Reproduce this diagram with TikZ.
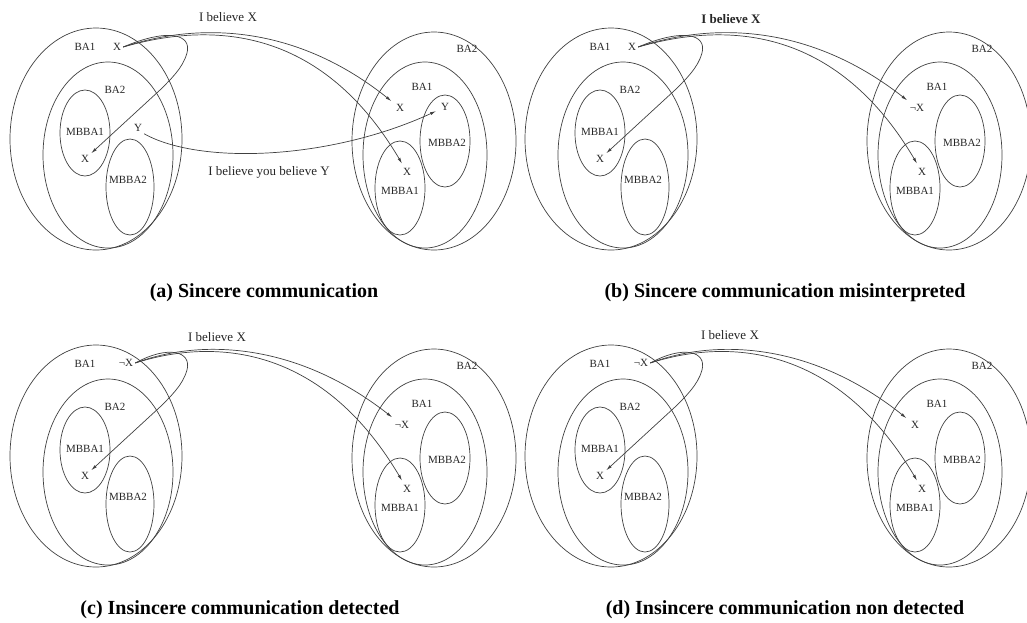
\documentclass[tikz,border=0pt]{standalone}
\usepackage{fontspec}
\setmainfont{Liberation Serif}
\usetikzlibrary{arrows.meta}

\tikzset{
  shell/.style={draw=black!75, line width=.7pt},
  lbl/.style={font=\fontsize{11}{13}\selectfont, text=black!85, inner sep=2pt},
  msgtext/.style={font=\fontsize{13}{15}\selectfont, text=black!85},
  capt/.style={font=\fontsize{20}{24}\selectfont\bfseries},
  msg/.style={draw=black!75, line width=.7pt, -{Latex[length=6pt,width=3pt]}},
}

\begin{document}
\begin{tikzpicture}[x=1pt,y=-1pt]
  \useasboundingbox (0,0) rectangle (1027,622);

  % belief spaces of both agents, the same in all four panels
  \foreach \p/\dx/\dy in {a/0/0,b/515/0,c/0/317,d/515/317}{
    \begin{scope}[shift={(\dx,\dy)}]
      % speaker
      \draw[shell] (96,139) ellipse [x radius=86pt, y radius=111pt];
      \draw[shell] (108,155) ellipse [x radius=65pt, y radius=93pt];
      \draw[shell] (85,133) ellipse [x radius=25pt, y radius=43pt];
      \draw[shell] (130,187) ellipse [x radius=24pt, y radius=48pt];
      \node[lbl] (\p-sba1) at (85,47) {BA1};
      \node[lbl] (\p-sba2) at (115,90) {BA2};
      \node[lbl] (\p-smb1) at (85,132) {MBBA1};
      \node[lbl] (\p-smb2) at (128,180) {MBBA2};
      % hearer
      \draw[shell] (434,141) ellipse [x radius=82pt, y radius=109pt];
      \draw[shell] (425,155) ellipse [x radius=62pt, y radius=93pt];
      \draw[shell] (445,141) ellipse [x radius=25pt, y radius=46pt];
      \draw[shell] (400,188) ellipse [x radius=25pt, y radius=47pt];
      \node[lbl] (\p-hba2) at (467,49) {BA2};
      \node[lbl] (\p-hba1) at (422,87) {BA1};
      \node[lbl] (\p-hmb2) at (447,143) {MBBA2};
      \node[lbl] (\p-hmb1) at (400,191) {MBBA1};
    \end{scope}
  }

  % (a) sincere communication
  \begin{scope}
    \node[lbl] (ax1) at (117,47) {X};
    \node[lbl] (ax2) at (85,159) {X};
    \node[lbl] (ay1) at (138,128) {Y};
    \node[lbl] (ax3) at (400,108) {X};
    \node[lbl] (ax4) at (407,172) {X};
    \node[lbl] (ay2) at (445,107) {Y};
    \node[msgtext] (amsg1) at (228,17) {I believe X};
    \node[msgtext] (amsg2) at (269,172) {I believe you believe Y};
    \draw[msg] (ax1.east) .. controls (168,28) and (192,34) .. (187,53)
      .. controls (183,68) and (170,80) .. (160,90) -- (ax2);
    \draw[msg, shorten >=3pt] (ax1.east) .. controls (205,20) and (300,28) .. (ax3);
    \draw[msg, shorten >=3pt] (ax1.east) .. controls (210,22) and (320,25) .. (ax4);
    \draw[msg, shorten >=3pt] (ay1.south east) .. controls (200,165) and (330,160) .. (ay2);
    \node[capt] (acap) at (264,293) {(a) Sincere communication};
  \end{scope}

  % (b) sincere communication misinterpreted
  \begin{scope}[shift={(515,0)}]
    \node[lbl] (bx1) at (117,47) {X};
    \node[lbl] (bx2) at (85,159) {X};
    \node[lbl] (bx3) at (402,108) {¬X};
    \node[lbl] (bx4) at (407,172) {X};
    \node[msgtext] (bmsg) at (216,19) {\bfseries I believe X};
    \draw[msg] (bx1.east) .. controls (168,28) and (192,34) .. (187,53)
      .. controls (183,68) and (170,80) .. (160,90) -- (bx2);
    \draw[msg, shorten >=3pt] (bx1.east) .. controls (205,20) and (300,28) .. (bx3);
    \draw[msg, shorten >=3pt] (bx1.east) .. controls (210,22) and (320,25) .. (bx4);
    \node[capt] (bcap) at (270,293) {(b) Sincere communication misinterpreted};
  \end{scope}

  % (c) insincere communication detected
  \begin{scope}[shift={(0,317)}]
    \node[lbl] (cx1) at (126,46) {¬X};
    \node[lbl] (cx2) at (85,159) {X};
    \node[lbl] (cx3) at (402,108) {¬X};
    \node[lbl] (cx4) at (407,172) {X};
    \node[msgtext] (cmsg) at (217,20) {I believe X};
    \draw[msg] (cx1.east) .. controls (168,28) and (192,34) .. (187,53)
      .. controls (183,68) and (170,80) .. (160,90) -- (cx2);
    \draw[msg, shorten >=3pt] (cx1.east) .. controls (205,20) and (300,28) .. (cx3);
    \draw[msg, shorten >=3pt] (cx1.east) .. controls (210,22) and (320,25) .. (cx4);
    \node[capt] (ccap) at (240,293) {(c) Insincere communication detected};
  \end{scope}

  % (d) insincere communication non detected
  \begin{scope}[shift={(515,317)}]
    \node[lbl] (dx1) at (126,46) {¬X};
    \node[lbl] (dx2) at (85,159) {X};
    \node[lbl] (dx3) at (400,108) {X};
    \node[lbl] (dx4) at (407,172) {X};
    \node[msgtext] (dmsg) at (215,18) {I believe X};
    \draw[msg] (dx1.east) .. controls (168,28) and (192,34) .. (187,53)
      .. controls (183,68) and (170,80) .. (160,90) -- (dx2);
    \draw[msg, shorten >=3pt] (dx1.east) .. controls (205,20) and (300,28) .. (dx3);
    \draw[msg, shorten >=3pt] (dx1.east) .. controls (210,22) and (320,25) .. (dx4);
    \node[capt] (dcap) at (270,293) {(d) Insincere communication non detected};
  \end{scope}
\end{tikzpicture}
\end{document}
